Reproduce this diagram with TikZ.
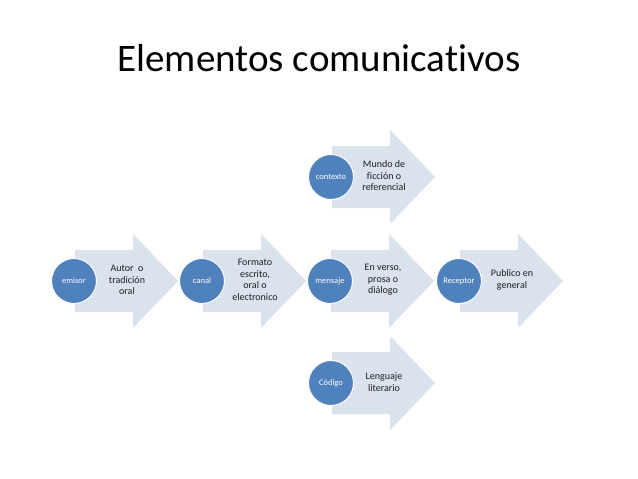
\documentclass[tikz,border=0pt]{standalone}
\usepackage{fontspec}
\setmainfont{Carlito}[Ligatures=NoCommon]
\definecolor{circblue}{RGB}{79,129,189}
\definecolor{arrowfill}{RGB}{218,226,238}
\definecolor{txt}{RGB}{30,30,30}
\begin{document}
\begin{tikzpicture}[x=1pt,y=-1pt,
  circ/.style={circle,fill=circblue,draw=white,line width=1pt,minimum size=45pt,inner sep=0pt,text=white,font=\fontsize{8.5}{10}\selectfont},
  lbl/.style={align=center,text=txt,font=\fontsize{10}{11.5}\selectfont,inner sep=0pt},
  arr/.style={fill=arrowfill,draw=none}]
\useasboundingbox (0,0) rectangle (638,479);
\fill[white] (0,0) rectangle (638,479);
\node[font=\fontsize{39}{44}\selectfont,text=black] (title) at (319,58) {Elementos comunicativos};
\foreach \x/\y/\n/\c/\t in {
  74/281/em/emisor/{Autor\ \ o\\tradición\\oral},
  202/281/ca/canal/{Formato\\escrito,\\oral o\\electronico},
  330/281/me/mensaje/{En verso,\\prosa o\\diálogo},
  459/281/re/Receptor/{Publico en\\general},
  331/177/co/contexto/{Mundo de\\ficción o\\referencial},
  331/383/cd/Código/{Lenguaje\\literario}}{
  \fill[arr] (\x+1,\y-31) -- (\x+59,\y-31) -- (\x+59,\y-47) -- (\x+104,\y) -- (\x+59,\y+47) -- (\x+59,\y+31) -- (\x+1,\y+31) -- cycle;
  \node[circ] (\n) at (\x,\y) {\c};
  \node[lbl] (\n-t) at (\x+53,\y-1) {\t};
}
\end{tikzpicture}
\end{document}
